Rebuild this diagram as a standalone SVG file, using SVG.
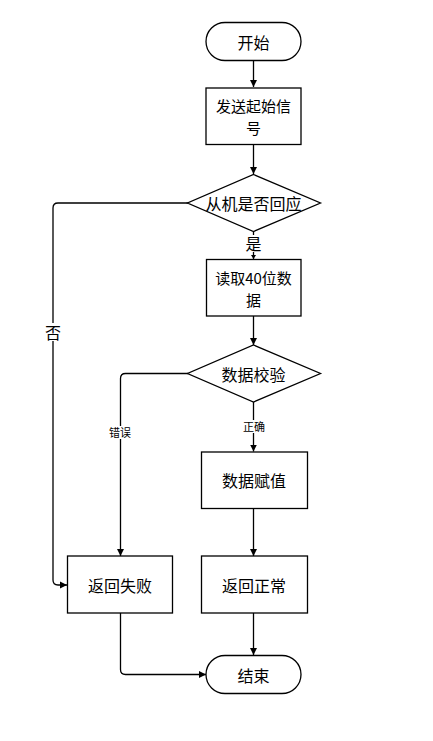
<svg xmlns="http://www.w3.org/2000/svg" width="433" height="741" viewBox="0 0 433 741">
<defs>
<marker id="arr" markerWidth="8" markerHeight="8" refX="7" refY="4" orient="auto" markerUnits="userSpaceOnUse">
<path d="M0,0.5 L7,4 L0,7.5 Z" fill="#000"/>
</marker>
<marker id="arrs" markerWidth="6" markerHeight="6" refX="4" refY="2.5" orient="auto" markerUnits="userSpaceOnUse">
<path d="M0,0 L4,2.5 L0,5 Z" fill="#000"/>
</marker>
<style>
.n{fill:#fff;stroke:#000;stroke-width:1.3}
.t{font-family:"Noto Sans CJK SC","Noto Sans",sans-serif;font-size:16px;fill:#000;text-anchor:middle;dominant-baseline:central}
.m{font-size:15px}
.s{font-size:11px}
.c{fill:none;stroke:#000;stroke-width:1.3}
.lb{fill:#fff}
</style>
</defs>
<rect width="433" height="741" fill="#fff"/>
<g id="connectors">
<path class="c" d="M253.5,61 V87" marker-end="url(#arr)"/>
<path class="c" d="M253.5,144.5 V174" marker-end="url(#arr)"/>
<path class="c" d="M253.5,232 V259" marker-end="url(#arrs)"/>
<path class="c" d="M253.5,316 V345" marker-end="url(#arr)"/>
<path class="c" d="M253.5,402 V451.5" marker-end="url(#arr)"/>
<path class="c" d="M253.5,508.5 V556" marker-end="url(#arr)"/>
<path class="c" d="M253.5,613 V655" marker-end="url(#arr)"/>
<path class="c" d="M188,203 H58 Q53,203 53,208 V580 Q53,585 58,585 H67" marker-end="url(#arr)"/>
<path class="c" d="M188,373.5 H125.5 Q120.5,373.5 120.5,378.5 V556" marker-end="url(#arr)"/>
<path class="c" d="M120.5,613 V669.5 Q120.5,674.5 125.5,674.5 H206" marker-end="url(#arr)"/>
<rect class="lb" x="245" y="235" width="17" height="17"/>
<text class="t" x="253.5" y="243">是</text>
<rect class="lb" x="45" y="323" width="17" height="18"/>
<text class="t" x="53" y="332">否</text>
<rect class="lb" x="108" y="426" width="24" height="13"/>
<text class="t s" x="120" y="432">错误</text>
<rect class="lb" x="242" y="420" width="24" height="13"/>
<text class="t s" x="254" y="426">正确</text>
</g>
<g id="start">
<rect class="n" x="206" y="22.5" width="95" height="38" rx="19" ry="19"/>
<text class="t" x="253.5" y="41.5">开始</text>
</g>
<g id="send">
<rect class="n" x="206" y="88" width="95" height="56.5"/>
<text class="t m" x="253.5" y="105">发送起始信</text>
<text class="t m" x="253.5" y="127">号</text>
</g>
<g id="respond">
<polygon class="n" points="253.5,174.5 320.5,203 253.5,231.5 187.5,203"/>
<text class="t" x="253.5" y="203">从机是否回应</text>
</g>
<g id="read">
<rect class="n" x="206.5" y="259.5" width="94.5" height="56.5"/>
<text class="t m" x="253.5" y="277">读取40位数</text>
<text class="t m" x="253.5" y="299">据</text>
</g>
<g id="check">
<polygon class="n" points="253.5,345 320.5,373.5 253.5,402 187.5,373.5"/>
<text class="t" x="253.5" y="373.5">数据校验</text>
</g>
<g id="assign">
<rect class="n" x="201.5" y="452" width="106" height="56.5"/>
<text class="t" x="254" y="480">数据赋值</text>
</g>
<g id="fail">
<rect class="n" x="67.5" y="556" width="105" height="57"/>
<text class="t" x="120" y="584.5">返回失败</text>
</g>
<g id="ok">
<rect class="n" x="201.5" y="556" width="106" height="57"/>
<text class="t" x="254" y="584.5">返回正常</text>
</g>
<g id="end">
<rect class="n" x="206" y="655.5" width="95" height="38" rx="19" ry="19"/>
<text class="t" x="253.5" y="674.5">结束</text>
</g>
</svg>
